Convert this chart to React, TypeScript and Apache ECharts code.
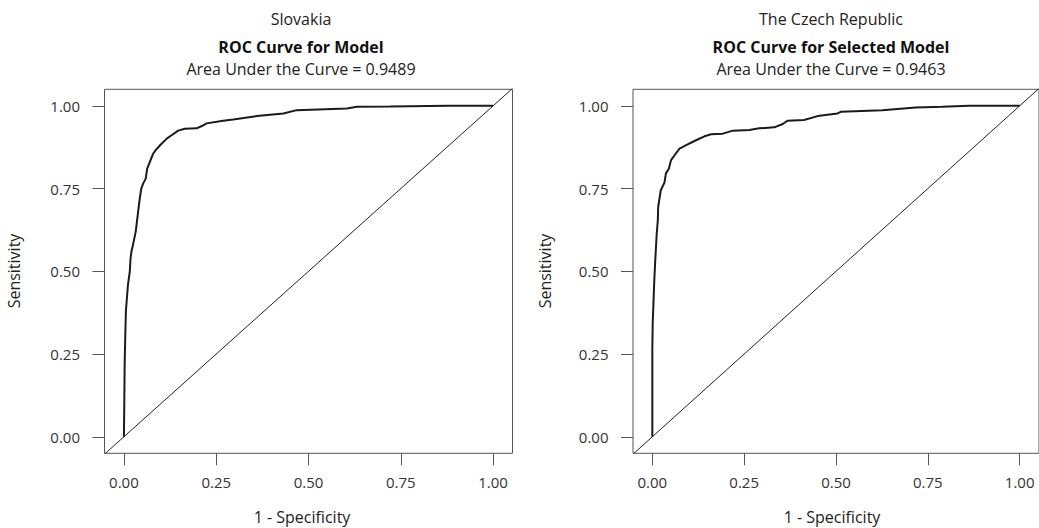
import React, { useEffect, useRef } from "react";
import * as echarts from "echarts";

const tickValues = [0, 0.25, 0.5, 0.75, 1.0];

const slovakiaFpr = [0, 0.001, 0.002, 0.004, 0.0054, 0.011, 0.016, 0.018, 0.021, 0.0226, 0.032, 0.039, 0.043, 0.047, 0.052, 0.059, 0.063, 0.0795, 0.086, 0.098, 0.116, 0.129, 0.147, 0.165, 0.197, 0.211, 0.224, 0.269, 0.296, 0.36, 0.432, 0.468, 0.604, 0.631, 0.721, 0.879, 1.0];
const slovakiaTpr = [0, 0.1, 0.22, 0.32, 0.38, 0.46, 0.5, 0.54, 0.564, 0.57, 0.62, 0.685, 0.72, 0.75, 0.765, 0.78, 0.81, 0.856, 0.866, 0.881, 0.901, 0.911, 0.925, 0.931, 0.932, 0.939, 0.947, 0.955, 0.959, 0.969, 0.977, 0.987, 0.992, 0.997, 0.998, 1.0, 1.0];

const czechFpr = [0, 0, 0.001, 0.003, 0.005, 0.008, 0.012, 0.015, 0.016, 0.023, 0.033, 0.037, 0.045, 0.051, 0.064, 0.074, 0.092, 0.119, 0.142, 0.16, 0.192, 0.219, 0.264, 0.291, 0.332, 0.355, 0.368, 0.413, 0.45, 0.504, 0.513, 0.626, 0.717, 0.789, 0.862, 1.0];
const czechTpr = [0, 0.262, 0.343, 0.4, 0.463, 0.534, 0.614, 0.655, 0.695, 0.745, 0.768, 0.796, 0.81, 0.836, 0.856, 0.871, 0.881, 0.896, 0.908, 0.914, 0.916, 0.925, 0.927, 0.932, 0.935, 0.945, 0.955, 0.957, 0.969, 0.977, 0.982, 0.987, 0.995, 0.997, 1.0, 1.0];

const panelSubtitles = ["Slovakia", "The Czech Republic"];
const panelTitles = ["ROC Curve for Model", "ROC Curve for Selected Model"];
const aucLabels = ["Area Under the Curve = 0.9489", "Area Under the Curve = 0.9463"];
const xName = "1 - Specificity";
const yName = "Sensitivity";

const FONT = "'Open Sans', 'Noto Sans', sans-serif";

export default function App() {
  const ref = useRef<HTMLDivElement>(null);
  useEffect(() => {
    if (!ref.current) return;
    const chart = echarts.init(ref.current, null, { renderer: "svg" });
    const grids = [
      { left: 104.5, top: 89.3, width: 408, height: 364 },
      { left: 633, top: 89.3, width: 406, height: 364 },
    ];
    const centers = [301, 831];
    const xAxis = grids.map((_, i) => ({
      type: "value",
      gridIndex: i,
      position: "bottom",
      min: -0.0526,
      max: 1.0526,
      axisLine: { show: false, onZero: false },
      splitLine: { show: false },
      axisTick: { show: true, inside: false, length: 12, customValues: tickValues, lineStyle: { color: "#555", width: 1 } },
      axisLabel: {
        show: true,
        customValues: tickValues,
        margin: 21,
        color: "#333",
        fontSize: 15,
        fontFamily: FONT,
        formatter: (v: number) => v.toFixed(2),
      },
    }));
    const yAxis = grids.map((_, i) => ({
      type: "value",
      gridIndex: i,
      position: "left",
      min: -0.05,
      max: 1.05,
      axisLine: { show: false, onZero: false },
      splitLine: { show: false },
      axisTick: { show: true, inside: false, length: 12, customValues: tickValues, lineStyle: { color: "#555", width: 1 } },
      axisLabel: {
        show: true,
        customValues: tickValues,
        margin: 24.5,
        color: "#333",
        fontSize: 15,
        fontFamily: FONT,
        formatter: (v: number) => v.toFixed(2),
      },
    }));
    const curves = [
      slovakiaFpr.map((x, i) => [x, slovakiaTpr[i]]),
      czechFpr.map((x, i) => [x, czechTpr[i]]),
    ];
    const series: any[] = [];
    curves.forEach((data, i) => {
      series.push({
        type: "line",
        xAxisIndex: i,
        yAxisIndex: i,
        data: [[-0.06, -0.06], [1.06, 1.06]],
        showSymbol: false,
        clip: true,
        lineStyle: { color: "#222", width: 1 },
        silent: true,
      });
      series.push({
        type: "line",
        xAxisIndex: i,
        yAxisIndex: i,
        data,
        showSymbol: false,
        clip: true,
        lineStyle: { color: "#1a1a1a", width: 2 },
        silent: true,
      });
    });
    const graphic: any[] = [];
    centers.forEach((cx, i) => {
      graphic.push(
        { type: "text", x: cx, y: 18.5, style: { text: panelSubtitles[i], fill: "#222", fontSize: 16, fontFamily: FONT, textAlign: "center", textVerticalAlign: "middle" } },
        { type: "text", x: cx, y: 46.5, style: { text: panelTitles[i], fill: "#111", fontSize: 16, fontWeight: "bold", fontFamily: FONT, textAlign: "center", textVerticalAlign: "middle" } },
        { type: "text", x: cx, y: 69, style: { text: aucLabels[i], fill: "#222", fontSize: 16, fontFamily: FONT, textAlign: "center", textVerticalAlign: "middle" } },
        { type: "text", x: cx + 1, y: 517, style: { text: xName, fill: "#222", fontSize: 16, fontFamily: FONT, textAlign: "center", textVerticalAlign: "middle" } },
      );
    });
    [14, 545].forEach((x) => {
      graphic.push({ type: "text", x, y: 271, rotation: Math.PI / 2, style: { text: yName, fill: "#222", fontSize: 16, fontFamily: FONT, textAlign: "center", textVerticalAlign: "middle" } });
    });
    chart.setOption({
      animation: false,
      backgroundColor: "#fff",
      grid: grids.map((g) => ({ ...g, show: true, borderColor: "#555", borderWidth: 1, backgroundColor: "transparent" })),
      xAxis,
      yAxis,
      series,
      graphic,
    });
    return () => chart.dispose();
  }, []);
  return <div ref={ref} style={{ position: "absolute", left: 0, top: 0, width: 1039, height: 528 }} />;
}
